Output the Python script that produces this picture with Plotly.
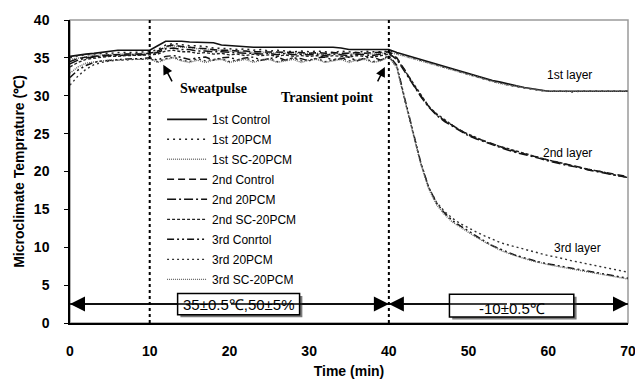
import plotly.graph_objects as go

# Time axis (min)
minutes = list(range(0, 71))

# Microclimate temperature (deg C) per layer and garment condition
first_control = [
    35.2, 35.4, 35.5, 35.6, 35.7, 35.9, 36.0, 36.0, 36.0, 36.0, 36.0,
    36.6, 37.2, 37.2, 37.2, 37.1, 37.1, 37.0, 37.0, 36.7, 36.6,
    36.5, 36.4, 36.4, 36.4, 36.4, 36.4, 36.4, 36.4, 36.4, 36.4,
    36.4, 36.4, 36.4, 36.3, 36.1, 36.1, 36.1, 36.1, 36.1, 36.1,
    35.7, 35.4, 35.1, 34.8, 34.4, 34.1, 33.8, 33.5, 33.2, 32.9,
    32.6, 32.3, 32.0, 31.8, 31.5, 31.3, 31.1, 30.9, 30.7, 30.6,
    30.6, 30.6, 30.6, 30.6, 30.6, 30.6, 30.6, 30.6, 30.6, 30.6,
]
first_20pcm = [
    35.0, 35.3, 35.4, 35.5, 35.6, 35.6, 35.7, 35.7, 35.7, 35.8, 35.8,
    36.1, 36.7, 36.9, 36.8, 36.6, 36.6, 36.5, 36.3, 36.3, 36.2,
    36.1, 36.2, 36.0, 36.1, 35.9, 36.0, 35.9, 35.8, 35.9, 35.8,
    35.9, 35.8, 35.7, 35.9, 35.8, 35.7, 35.9, 35.8, 35.8, 35.9,
    35.6, 35.3, 35.0, 34.6, 34.3, 34.0, 33.7, 33.4, 33.1, 32.8,
    32.5, 32.2, 31.9, 31.7, 31.4, 31.2, 31.0, 30.8, 30.7, 30.6,
    30.6, 30.6, 30.5, 30.6, 30.6, 30.6, 30.6, 30.6, 30.6, 30.6,
]
first_sc20pcm = [
    34.8, 35.0, 35.2, 35.3, 35.4, 35.4, 35.5, 35.5, 35.5, 35.6, 35.6,
    35.8, 36.4, 36.6, 36.4, 36.4, 36.2, 36.2, 36.0, 36.0, 35.9,
    35.8, 35.9, 35.7, 35.8, 35.6, 35.7, 35.6, 35.7, 35.5, 35.6,
    35.6, 35.4, 35.6, 35.5, 35.6, 35.4, 35.6, 35.5, 35.6, 35.7,
    35.5, 35.2, 34.9, 34.6, 34.3, 34.0, 33.6, 33.3, 33.0, 32.7,
    32.4, 32.1, 31.9, 31.6, 31.4, 31.2, 31.0, 30.8, 30.7, 30.6,
    30.6, 30.6, 30.6, 30.6, 30.6, 30.6, 30.6, 30.6, 30.6, 30.6,
]
second_control = [
    34.5, 34.9, 35.1, 35.2, 35.3, 35.4, 35.4, 35.5, 35.5, 35.5, 35.6,
    35.9, 36.5, 36.7, 36.5, 36.4, 36.3, 36.2, 36.1, 36.0, 36.0,
    35.9, 35.9, 35.8, 35.8, 35.8, 35.7, 35.7, 35.7, 35.7, 35.6,
    35.7, 35.6, 35.7, 35.6, 35.6, 35.7, 35.6, 35.7, 35.7, 35.8,
    35.0, 33.4, 31.6, 30.0, 28.6, 27.5, 26.7, 26.1, 25.4, 24.8,
    24.4, 24.0, 23.6, 23.2, 22.9, 22.6, 22.3, 22.0, 21.8, 21.5,
    21.2, 21.0, 20.8, 20.5, 20.3, 20.1, 19.9, 19.7, 19.5, 19.3,
]
second_20pcm = [
    34.2, 34.7, 35.0, 35.1, 35.2, 35.3, 35.3, 35.4, 35.4, 35.4, 35.5,
    35.7, 36.2, 36.3, 36.1, 36.1, 35.9, 35.9, 35.8, 35.8, 35.7,
    35.7, 35.6, 35.6, 35.5, 35.6, 35.4, 35.6, 35.4, 35.5, 35.4,
    35.5, 35.3, 35.5, 35.4, 35.3, 35.5, 35.4, 35.3, 35.5, 35.6,
    34.8, 33.2, 31.5, 29.9, 28.5, 27.4, 26.6, 26.0, 25.3, 24.7,
    24.3, 23.9, 23.5, 23.1, 22.8, 22.5, 22.2, 21.9, 21.7, 21.4,
    21.2, 20.9, 20.7, 20.5, 20.2, 20.0, 19.8, 19.6, 19.4, 19.2,
]
second_sc20pcm = [
    33.8, 34.4, 34.8, 35.0, 35.1, 35.2, 35.2, 35.3, 35.3, 35.3, 35.4,
    35.5, 35.9, 36.0, 35.8, 35.8, 35.6, 35.7, 35.5, 35.6, 35.4,
    35.5, 35.3, 35.5, 35.3, 35.4, 35.2, 35.4, 35.2, 35.3, 35.2,
    35.3, 35.1, 35.3, 35.2, 35.1, 35.3, 35.2, 35.1, 35.3, 35.5,
    34.9, 33.3, 31.7, 30.1, 28.6, 27.6, 26.8, 26.1, 25.4, 24.9,
    24.4, 24.0, 23.6, 23.3, 22.9, 22.6, 22.3, 22.1, 21.8, 21.5,
    21.3, 21.0, 20.8, 20.5, 20.3, 20.1, 19.9, 19.6, 19.4, 19.2,
]
third_control = [
    32.4, 33.4, 34.0, 34.4, 34.6, 34.7, 34.8, 34.8, 34.9, 34.9, 35.0,
    34.7, 35.2, 35.3, 35.0, 34.8, 35.0, 35.1, 34.7, 35.0, 35.1,
    34.7, 35.0, 35.1, 34.7, 34.9, 35.1, 34.7, 35.0, 34.9, 34.6,
    35.0, 35.1, 34.7, 34.9, 35.1, 34.6, 35.0, 35.1, 34.7, 35.3,
    34.0, 29.6, 25.4, 21.2, 17.9, 15.8, 14.5, 13.5, 12.8, 12.1,
    11.4, 10.8, 10.2, 9.7, 9.3, 8.9, 8.6, 8.3, 8.0, 7.8,
    7.6, 7.4, 7.2, 7.0, 6.8, 6.6, 6.4, 6.2, 6.1, 5.9,
]
third_20pcm = [
    31.4, 32.6, 33.5, 34.1, 34.4, 34.6, 34.7, 34.7, 34.8, 34.8, 34.9,
    34.5, 34.9, 35.1, 34.7, 34.5, 34.9, 34.6, 34.8, 34.9, 34.5,
    34.8, 35.0, 34.6, 34.8, 34.9, 34.5, 34.8, 35.0, 34.6, 34.8,
    34.9, 34.5, 34.8, 35.0, 34.6, 34.8, 34.9, 34.5, 34.7, 35.2,
    33.8, 29.4, 25.3, 21.1, 17.9, 15.9, 14.7, 13.8, 13.1, 12.5,
    12.0, 11.5, 11.0, 10.6, 10.3, 10.0, 9.7, 9.4, 9.1, 8.9,
    8.7, 8.4, 8.2, 8.0, 7.8, 7.5, 7.3, 7.1, 6.9, 6.7,
]
third_sc20pcm = [
    33.0, 33.8, 34.3, 34.5, 34.6, 34.7, 34.7, 34.8, 34.8, 34.8, 34.9,
    34.4, 34.8, 35.0, 34.6, 34.4, 34.7, 34.4, 34.7, 34.8, 34.4,
    34.6, 34.8, 34.4, 34.7, 34.8, 34.4, 34.6, 34.8, 34.4, 34.7,
    34.8, 34.4, 34.6, 34.8, 34.4, 34.7, 34.8, 34.4, 34.6, 35.1,
    33.7, 29.3, 25.2, 21.0, 17.7, 15.6, 14.3, 13.3, 12.6, 11.9,
    11.3, 10.7, 10.1, 9.6, 9.2, 8.8, 8.5, 8.2, 7.9, 7.7,
    7.5, 7.3, 7.1, 6.9, 6.7, 6.5, 6.3, 6.2, 6.0, 5.8,
]

series_names = [
    "1st Control", "1st 20PCM", "1st SC-20PCM",
    "2nd Control", "2nd 20PCM", "2nd SC-20PCM",
    "3rd Conrtol", "3rd 20PCM", "3rd SC-20PCM",
]
series_values = [
    first_control, first_20pcm, first_sc20pcm,
    second_control, second_20pcm, second_sc20pcm,
    third_control, third_20pcm, third_sc20pcm,
]

# line look of each series (same order as series_names)
line_styles = [
    dict(color="#111111", width=1.6, dash="solid"),
    dict(color="#222222", width=1.5, dash="2px,4px"),
    dict(color="#777777", width=1.5, dash="1px,1px"),
    dict(color="#111111", width=1.5, dash="7px,4px"),
    dict(color="#111111", width=1.5, dash="9px,3px,2px,3px"),
    dict(color="#222222", width=1.4, dash="3px,2px"),
    dict(color="#111111", width=1.5, dash="7px,3px,2px,3px,2px,3px"),
    dict(color="#333333", width=1.4, dash="2px,3px"),
    dict(color="#666666", width=1.4, dash="1px,1px"),
]

fig = go.Figure()
for name, vals, style in zip(series_names, series_values, line_styles):
    fig.add_trace(go.Scatter(x=minutes, y=vals, mode="lines", name=name,
                             legendgroup=name, line=style))

serif_bold = dict(family="Liberation Serif, Times New Roman, serif",
                  size=14, color="black", weight="bold")
narrow = dict(family="Liberation Sans Narrow, Arial Narrow, Liberation Sans, sans-serif",
              size=12, color="black")
label_font = dict(family="Liberation Sans, Arial, sans-serif", size=15,
                  color="black")

shapes = []
# phase boundaries
for xv in (10, 40):
    shapes.append(dict(type="line", xref="x", yref="y", x0=xv, x1=xv, y0=0, y1=40,
                       line=dict(color="black", width=2, dash="dot")))
# horizontal condition line at the bottom
shapes.append(dict(type="line", xref="x", yref="y", x0=0, x1=70, y0=2.5, y1=2.5,
                   line=dict(color="black", width=1.5)))
# condition boxes with a drop shadow
for (bx0, bx1, by0, by1) in [(13.5, 28.8, 1.1, 3.9), (47.6, 63.2, 0.8, 3.8)]:
    shapes.append(dict(type="rect", xref="x", yref="y",
                       x0=bx0 + 0.35, x1=bx1 + 0.35, y0=by0 - 0.35, y1=by1 - 0.35,
                       fillcolor="#7a7a7a", line=dict(width=0)))
    shapes.append(dict(type="rect", xref="x", yref="y",
                       x0=bx0, x1=bx1, y0=by0, y1=by1,
                       fillcolor="white", line=dict(color="black", width=1.5)))
# outer frame
shapes.append(dict(type="rect", xref="paper", yref="paper", x0=0, x1=1, y0=0, y1=1,
                   line=dict(color="#9a9a9a", width=1.5), layer="below"))

annotations = [
    dict(x=18.0, y=31.0, text="Sweatpulse", showarrow=False, font=serif_bold),
    dict(x=32.2, y=29.8, text="Transient point", showarrow=False, font=serif_bold),
    dict(x=11.7, y=34.1, ax=12.9, ay=31.7, axref="x", ayref="y", text="",
         showarrow=True, arrowhead=2, arrowsize=1.3, arrowwidth=1.5, arrowcolor="black"),
    dict(x=39.5, y=33.8, ax=38.5, ay=31.7, axref="x", ayref="y", text="",
         showarrow=True, arrowhead=2, arrowsize=1.3, arrowwidth=1.5, arrowcolor="black"),
    dict(x=62.7, y=32.7, text="1st layer", showarrow=False, font=narrow),
    dict(x=62.4, y=22.4, text="2nd layer", showarrow=False, font=narrow),
    dict(x=63.7, y=9.9, text="3rd layer", showarrow=False, font=narrow),
    dict(x=21.15, y=2.5, text="35±0.5℃,50±5%", showarrow=False, font=label_font),
    dict(x=55.4, y=1.9, text="-10±0.5℃", showarrow=False, font=label_font),
]
# double-headed arrows for the two test phases
for tip, tail in [(0, 20), (40, 20), (40, 55), (70, 55)]:
    annotations.append(dict(x=tip, y=2.5, ax=tail, ay=2.5, axref="x", ayref="y",
                            text="", showarrow=True, arrowhead=2, arrowsize=2.0,
                            arrowwidth=1.5, arrowcolor="black"))

tick_font = dict(family="Liberation Sans, Arial, sans-serif", size=14,
                 color="black", weight="bold")

fig.update_layout(
    width=635, height=379,
    margin=dict(l=70, r=7, t=20, b=56, autoexpand=False),
    paper_bgcolor="white", plot_bgcolor="white",
    showlegend=True,
    legend=dict(x=0.165, y=0.72, xanchor="left", yanchor="top",
                bgcolor="rgba(0,0,0,0)", font=narrow, tracegroupgap=1,
                itemwidth=40),
    shapes=shapes,
    annotations=annotations,
    xaxis=dict(range=[0, 70], tickvals=list(range(0, 71, 10)),
               showgrid=False, zeroline=False, showline=True,
               linecolor="black", linewidth=1.5, ticks="",
               tickfont=tick_font, ticklabelstandoff=14,
               ticklabeloverflow="allow", automargin=False,
               title=dict(text="Time (min)", font=tick_font, standoff=9)),
    yaxis=dict(range=[0, 40], tickvals=list(range(0, 41, 5)),
               showgrid=False, zeroline=False, showline=True,
               linecolor="black", linewidth=1.5, ticks="outside", ticklen=4,
               tickcolor="black", tickfont=tick_font, ticklabelstandoff=12,
               automargin=False,
               title=dict(text="Microclimate Temprature (℃)", font=tick_font,
                          standoff=6)),
)

fig.write_html("out.html")
